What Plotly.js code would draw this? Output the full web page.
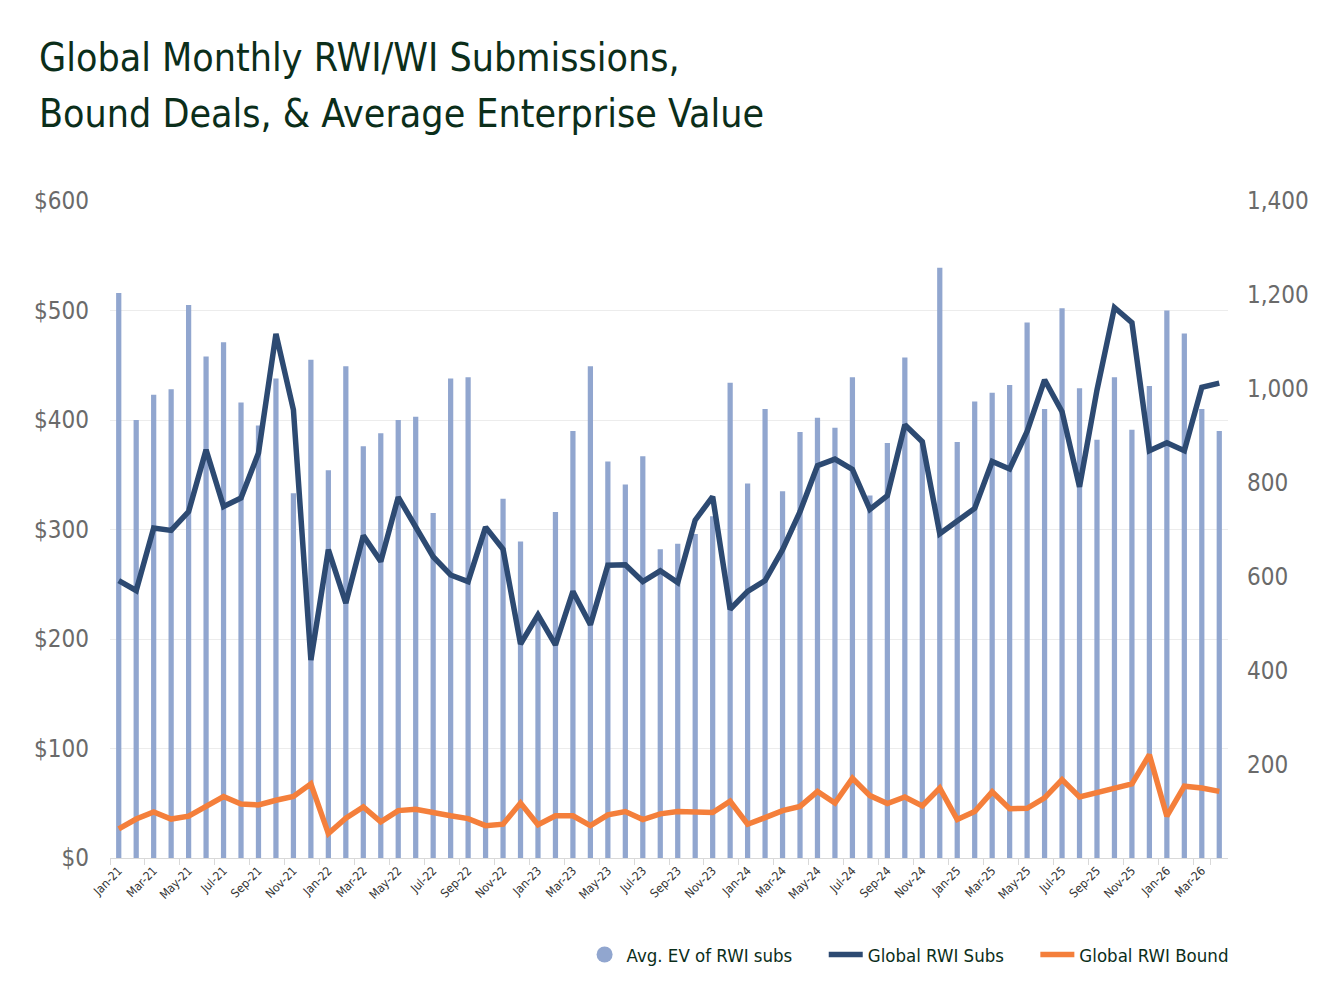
<!DOCTYPE html>
<html>
<head>
<meta charset="utf-8">
<script src="https://cdn.plot.ly/plotly-3.0.1.min.js"></script>
<style>
  html, body { margin: 0; padding: 0; background: #fff; }
  #chart { width: 1337px; height: 1000px; }
</style>
</head>
<body>
<div id="chart"></div>
<script>
// months Jan-21 .. Apr-26
const months = [
  "Jan-21", "Feb-21", "Mar-21", "Apr-21", "May-21", "Jun-21", "Jul-21", "Aug-21", "Sep-21", "Oct-21", "Nov-21", "Dec-21",
  "Jan-22", "Feb-22", "Mar-22", "Apr-22", "May-22", "Jun-22", "Jul-22", "Aug-22", "Sep-22", "Oct-22", "Nov-22", "Dec-22",
  "Jan-23", "Feb-23", "Mar-23", "Apr-23", "May-23", "Jun-23", "Jul-23", "Aug-23", "Sep-23", "Oct-23", "Nov-23", "Dec-23",
  "Jan-24", "Feb-24", "Mar-24", "Apr-24", "May-24", "Jun-24", "Jul-24", "Aug-24", "Sep-24", "Oct-24", "Nov-24", "Dec-24",
  "Jan-25", "Feb-25", "Mar-25", "Apr-25", "May-25", "Jun-25", "Jul-25", "Aug-25", "Sep-25", "Oct-25", "Nov-25", "Dec-25",
  "Jan-26", "Feb-26", "Mar-26", "Apr-26"
];

// avg enterprise value of RWI submissions ($M, left axis)
const avgEV = [
  516, 400, 423, 428, 505, 458, 471, 416, 395, 438, 333, 455,
  354, 449, 376, 388, 400, 403, 315, 438, 439, 302, 328, 289,
  222, 316, 390, 449, 362, 341, 367, 282, 287, 296, 312, 434,
  342, 410, 335, 389, 402, 393, 439, 331, 379, 457, 380, 539,
  380, 417, 425, 432, 489, 410, 502, 429, 382, 439, 391, 431,
  500, 479, 410, 390
];

// global RWI submissions (right axis)
const rwiSubs = [
  591, 570, 703, 698, 738, 870, 749, 767, 863, 1117, 955, 422,
  657, 543, 687, 632, 769, 706, 642, 603, 589, 705, 658, 456,
  518, 454, 568, 497, 624, 625, 589, 612, 587, 720, 770, 530,
  568, 591, 657, 738, 836, 850, 828, 743, 772, 923, 887, 691,
  717, 745, 845, 829, 909, 1019, 951, 791, 997, 1173, 1141, 868,
  885, 868, 1003, 1012
];

// global RWI bound deals (right axis)
const rwiBound = [
  62, 83, 98, 83, 89, 111, 131, 115, 113, 123, 131, 158,
  52, 85, 109, 77, 101, 104, 96, 90, 84, 69, 72, 117,
  71, 90, 90, 69, 92, 99, 82, 94, 99, 99, 97, 121,
  72, 86, 101, 110, 142, 117, 170, 133, 116, 130, 111, 149,
  82, 99, 141, 105, 106, 128, 167, 130, 140, 151, 158, 220,
  89, 153, 149, 142
];

const leftTicks = [0, 100, 200, 300, 400, 500, 600];
const rightTicks = [200, 400, 600, 800, 1000, 1200, 1400];

const titleLines = [
  "Global Monthly RWI/WI Submissions,",
  "Bound Deals, & Average Enterprise Value",
];

const FONT = "'Liberation Sans Narrow', 'DejaVu Sans Condensed', 'Roboto', sans-serif";
const GREEN = "#0b2e1a";
const BAR_COLOR = "#91a6cf";
const NAVY = "#2d4a72";
const ORANGE = "#f47f3b";
const GAP = "\u00a0\u00a0\u00a0\u00a0\u00a0";

// every second month gets a label
const labelMonths = months.filter((m, i) => i % 2 === 0);

const traces = [
  {
    type: "bar",
    x: months,
    y: avgEV,
    name: "Avg. EV of RWI subs",
    marker: { color: BAR_COLOR },
    width: 0.3,
    showlegend: false,
    hoverinfo: "skip",
  },
  {
    // legend entry only, drawn as a round dot like the original
    type: "scatter",
    mode: "markers",
    x: [null],
    y: [null],
    name: "Avg. EV of RWI subs" + GAP,
    marker: { color: BAR_COLOR, size: 24, symbol: "circle" },
    hoverinfo: "skip",
  },
  {
    type: "scatter",
    mode: "lines",
    x: months,
    y: rwiSubs,
    yaxis: "y2",
    name: "Global RWI Subs" + GAP,
    line: { color: NAVY, width: 5.5 },
    hoverinfo: "skip",
  },
  {
    type: "scatter",
    mode: "lines",
    x: months,
    y: rwiBound,
    yaxis: "y2",
    name: "Global RWI Bound",
    line: { color: ORANGE, width: 5.5 },
    hoverinfo: "skip",
  },
];

// title as two left-aligned lines
const titleAnnotations = titleLines.map((line, i) => ({
  text: line,
  xref: "paper",
  yref: "paper",
  x: -73 / 1118,
  xanchor: "left",
  y: 1 + (144 - 56 * i) / 657,
  yanchor: "middle",
  showarrow: false,
  font: { family: FONT, size: 39, color: GREEN },
}));

const layout = {
  width: 1337,
  height: 1000,
  margin: { l: 110, r: 109, t: 201, b: 142 },
  paper_bgcolor: "#ffffff",
  plot_bgcolor: "#ffffff",
  font: { family: FONT, color: GREEN },
  annotations: titleAnnotations,
  xaxis: {
    type: "category",
    range: [-0.5, 63.5],
    tickmode: "array",
    tickvals: labelMonths,
    ticktext: labelMonths,
    tickangle: -45,
    tickson: "boundaries",
    ticks: "outside",
    ticklen: 6,
    tickcolor: "#d9d9d9",
    tickfont: { family: FONT, size: 12, color: "#333333" },
    showline: true,
    linecolor: "#d9d9d9",
    linewidth: 1,
    showgrid: false,
    zeroline: false,
    fixedrange: true,
  },
  yaxis: {
    range: [0, 600],
    tickmode: "array",
    tickvals: leftTicks,
    ticktext: leftTicks.map((v) => "$" + v),
    tickfont: { family: FONT, size: 24, color: "#6a6a6a" },
    ticklabelstandoff: 20,
    showgrid: true,
    gridcolor: "#ececec",
    gridwidth: 1,
    zeroline: false,
    showline: false,
    fixedrange: true,
  },
  yaxis2: {
    overlaying: "y",
    side: "right",
    range: [0, 1400],
    tickmode: "array",
    tickvals: rightTicks,
    ticktext: rightTicks.map((v) => v.toLocaleString("en-US")),
    tickfont: { family: FONT, size: 24, color: "#6a6a6a" },
    ticklabelstandoff: 18,
    showgrid: false,
    zeroline: false,
    showline: false,
    fixedrange: true,
  },
  showlegend: true,
  legend: {
    orientation: "h",
    xref: "paper",
    yref: "container",
    x: 1.005,
    xanchor: "right",
    y: 0.045,
    yanchor: "middle",
    font: { family: FONT, size: 18.5, color: GREEN },
    itemwidth: 34,
    tracegroupgap: 0,
    bgcolor: "rgba(0,0,0,0)",
  },
  hovermode: false,
};

Plotly.newPlot("chart", traces, layout, { displayModeBar: false, staticPlot: true });
</script>
</body>
</html>
